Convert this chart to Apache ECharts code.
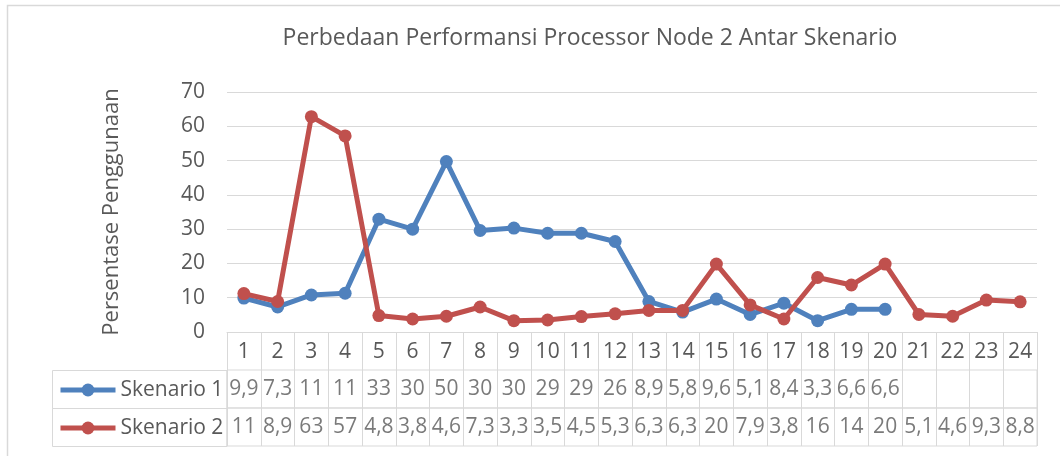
<!DOCTYPE html>
<html>
<head>
<meta charset="utf-8">
<style>
html,body{margin:0;padding:0;background:#fff;}
#chart{width:1060px;height:456px;}
</style>
<script src="https://cdn.jsdelivr.net/npm/echarts@6/dist/echarts.min.js"></script>
</head>
<body>
<div id="chart"></div>
<script>
const titleText = 'Perbedaan Performansi Processor Node 2 Antar Skenario';
const yAxisName = 'Persentase Penggunaan';
const categories = ['1','2','3','4','5','6','7','8','9','10','11','12','13','14','15','16','17','18','19','20','21','22','23','24'];
const seriesNames = ['Skenario 1', 'Skenario 2'];
const skenario1 = [9.9,7.3,10.8,11.3,32.9,30.0,49.7,29.6,30.3,28.8,28.8,26.4,8.9,5.8,9.6,5.1,8.4,3.3,6.6,6.6,null,null,null,null];
const skenario2 = [11.2,8.9,62.8,57.2,4.8,3.8,4.6,7.3,3.3,3.5,4.5,5.3,6.3,6.3,19.8,7.9,3.8,15.9,13.7,19.8,5.1,4.6,9.3,8.8];
const yMin = 0, yMax = 70, yStep = 10;

const FONT = 'Open Sans';
const TXT = '#595959';
const GRIDC = '#d9d9d9';
const colors = ['#4f81bd', '#c0504d'];

function fmt(v) {
  if (v == null) return '';
  return v >= 10 ? String(Math.round(v)) : v.toFixed(1).replace('.', ',');
}

const L = 227, R = 1060 - 1037;
const rowTop = [370, 408], rowH = 38;

const chart = echarts.init(document.getElementById('chart'), null, {renderer: 'canvas'});

const rowData = [skenario1, skenario2];

const option = {
  animation: false,
  backgroundColor: '#fff',
  textStyle: {fontFamily: FONT},
  title: {
    text: titleText,
    left: 585,
    textAlign: 'center',
    top: 22,
    textStyle: {fontFamily: FONT, fontSize: 23, fontWeight: 'normal', color: TXT}
  },
  legend: {
    data: seriesNames,
    orient: 'vertical',
    left: 58,
    top: 378,
    padding: 0,
    itemWidth: 55,
    itemHeight: 16,
    itemGap: 14,
    lineStyle: {width: 5},
    textStyle: {fontFamily: FONT, fontSize: 21, color: TXT, lineHeight: 24}
  },
  graphic: [
    {type: 'rect', silent: true, shape: {x: 7.5, y: 5.5, width: 1200, height: 600},
     style: {fill: 'none', stroke: GRIDC, lineWidth: 1.5}},
    {type: 'rect', silent: true, shape: {x: 52.5, y: rowTop[0] + 0.5, width: L - 52.5, height: rowH},
     style: {fill: 'none', stroke: GRIDC, lineWidth: 1}},
    {type: 'rect', silent: true, shape: {x: 52.5, y: rowTop[1] + 0.5, width: L - 52.5, height: rowH},
     style: {fill: 'none', stroke: GRIDC, lineWidth: 1}}
  ],
  grid: [
    {left: L, right: R, top: 92, bottom: 456 - 332, containLabel: false},
    {left: L, right: R, top: rowTop[0], height: rowH, show: true, borderColor: GRIDC, borderWidth: 1},
    {left: L, right: R, top: rowTop[1], height: rowH, show: true, borderColor: GRIDC, borderWidth: 1}
  ],
  xAxis: [
    {
      gridIndex: 0, type: 'category', data: categories, boundaryGap: true,
      axisLine: {lineStyle: {color: GRIDC, width: 1}},
      axisTick: {show: true, interval: 0, length: 38, lineStyle: {color: GRIDC}},
      axisLabel: {interval: 0, margin: 10, fontFamily: FONT, fontSize: 21, color: TXT, lineHeight: 21}
    },
    {
      gridIndex: 1, type: 'category', data: categories, boundaryGap: true,
      axisLine: {show: false}, axisTick: {show: false}, axisLabel: {show: false},
      splitLine: {show: true, interval: 0, lineStyle: {color: GRIDC}}
    },
    {
      gridIndex: 2, type: 'category', data: categories, boundaryGap: true,
      axisLine: {show: false}, axisTick: {show: false}, axisLabel: {show: false},
      splitLine: {show: true, interval: 0, lineStyle: {color: GRIDC}}
    }
  ],
  yAxis: [
    {
      gridIndex: 0, type: 'value', min: yMin, max: yMax, interval: yStep,
      name: yAxisName, nameLocation: 'middle', nameRotate: 90, nameGap: 104,
      nameTextStyle: {fontFamily: FONT, fontSize: 22, color: TXT},
      axisLine: {show: false}, axisTick: {show: false},
      axisLabel: {margin: 22, fontFamily: FONT, fontSize: 21, color: TXT},
      splitLine: {lineStyle: {color: GRIDC, width: 1}}
    },
    {gridIndex: 1, type: 'value', min: 0, max: 1, show: false},
    {gridIndex: 2, type: 'value', min: 0, max: 1, show: false}
  ],
  series: [
    {
      name: seriesNames[0], type: 'line', xAxisIndex: 0, yAxisIndex: 0,
      data: skenario1, symbol: 'circle', symbolSize: 13, connectNulls: false,
      color: colors[0], lineStyle: {width: 5, color: colors[0]}, itemStyle: {color: colors[0]}, z: 3
    },
    {
      name: seriesNames[1], type: 'line', xAxisIndex: 0, yAxisIndex: 0,
      data: skenario2, symbol: 'circle', symbolSize: 13, connectNulls: false,
      color: colors[1], lineStyle: {width: 5, color: colors[1]}, itemStyle: {color: colors[1]}, z: 4
    }
  ].concat(rowData.map((arr, r) => ({
    type: 'scatter', xAxisIndex: r + 1, yAxisIndex: r + 1,
    data: arr.map((v, i) => v == null ? null : [i, 0.5, v]).filter(d => d),
    symbolSize: 1, itemStyle: {color: 'rgba(255,255,255,0)'}, silent: true,
    label: {
      show: true, position: 'inside',
      formatter: p => fmt(p.value[2]),
      fontFamily: FONT, fontSize: 21, color: TXT
    },
    tooltip: {show: false}
  })))
};

chart.setOption(option);
</script>
</body>
</html>
